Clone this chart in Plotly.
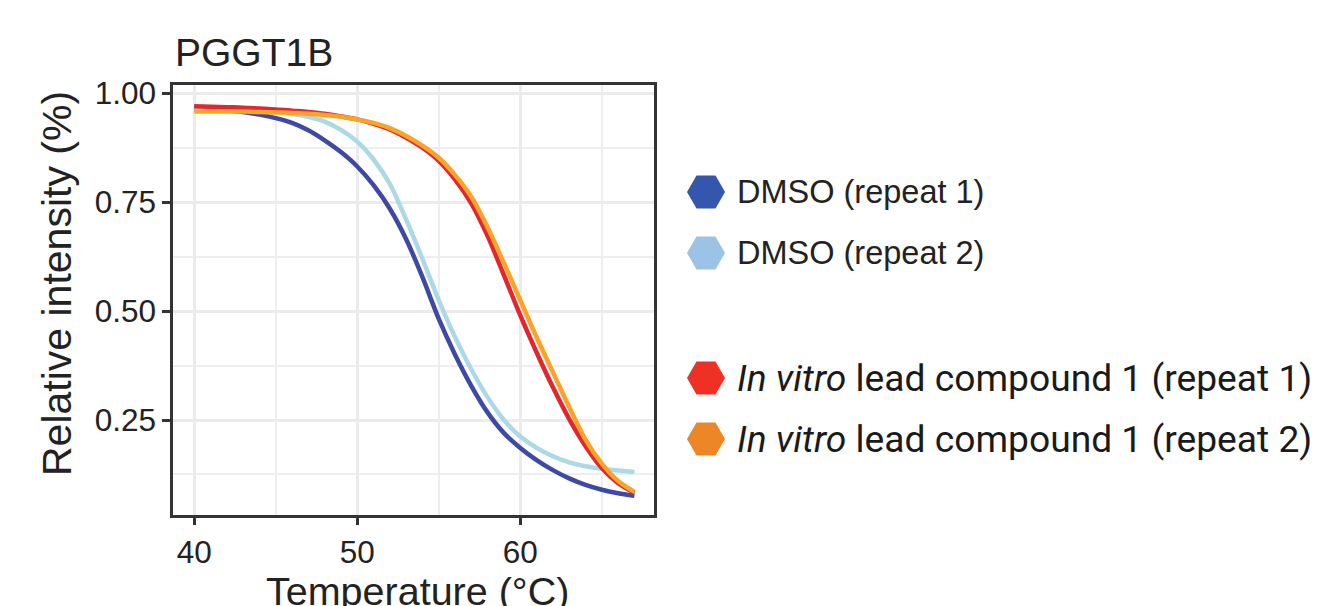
import plotly.graph_objects as go

# ---- data ----
temperature = [40, 41, 42, 43, 44, 45, 46, 47, 48, 49, 50, 51, 52, 53, 54, 55, 56, 57, 58, 59, 60,
               61, 62, 63, 64, 65, 66, 67]

dmso_r1 = [0.966, 0.964, 0.961, 0.957, 0.951, 0.943, 0.932, 0.915, 0.892, 0.865, 0.832, 0.789,
           0.735, 0.665, 0.578, 0.482, 0.400, 0.328, 0.267, 0.220, 0.186, 0.158, 0.135, 0.116,
           0.101, 0.090, 0.082, 0.076]
dmso_r2 = [0.962, 0.962, 0.962, 0.961, 0.960, 0.957, 0.953, 0.946, 0.935, 0.916, 0.889, 0.848,
           0.792, 0.710, 0.620, 0.525, 0.440, 0.366, 0.302, 0.250, 0.212, 0.186, 0.167, 0.153,
           0.144, 0.138, 0.134, 0.131]
cmpd_r1 = [0.970, 0.969, 0.968, 0.967, 0.965, 0.963, 0.960, 0.957, 0.953, 0.947, 0.940, 0.930,
           0.917, 0.898, 0.875, 0.845, 0.802, 0.747, 0.672, 0.582, 0.490, 0.405, 0.325, 0.252,
           0.190, 0.140, 0.105, 0.083]
cmpd_r2 = [0.958, 0.958, 0.958, 0.958, 0.957, 0.956, 0.955, 0.953, 0.950, 0.946, 0.940, 0.932,
           0.920, 0.902, 0.880, 0.852, 0.812, 0.762, 0.692, 0.610, 0.525, 0.440, 0.360, 0.280,
           0.205, 0.150, 0.110, 0.085]

series_names = ["DMSO (repeat 1)", "DMSO (repeat 2)",
                "<i>In vitro</i> lead compound 1 (repeat 1)",
                "<i>In vitro</i> lead compound 1 (repeat 2)"]
series_values = [dmso_r1, dmso_r2, cmpd_r1, cmpd_r2]
series_groups = [0, 0, 1, 1]
line_colors = ["#3D49A5", "#ADD8E6", "#E3262C", "#F6A52A"]
legend_colors = ["#3556AD", "#9CC3E6", "#EE3124", "#EC8626"]

x_ticks = [40, 50, 60]
y_ticks = [0.25, 0.50, 0.75, 1.00]
y_tick_labels = ["0.25", "0.50", "0.75", "1.00"]

W, H = 1325, 606
# plot box in pixels
L, R, T, B = 173, 654, 85, 515

fig = go.Figure()

for name, vals, col in zip(series_names, series_values, line_colors):
    fig.add_trace(go.Scatter(
        x=temperature, y=vals, mode="lines", name=name,
        line=dict(color=col, width=4.5, shape="spline", smoothing=0.8),
        showlegend=False, hoverinfo="x+y"))

# ---- manual legend on an overlay axis (pixel-like coordinates) ----
row_pos = [i + 1.05 * g for i, g in enumerate(series_groups)]
fig.add_trace(go.Scatter(
    x=[706] * len(row_pos), y=row_pos, mode="markers",
    marker=dict(symbol="hexagon2", size=38, color=legend_colors, line=dict(width=0)),
    xaxis="x2", yaxis="y2", showlegend=False, hoverinfo="skip"))

annotations = []
for i, (name, pos) in enumerate(zip(series_names, row_pos)):
    if series_groups[i] == 0:
        font = dict(family="Liberation Sans, Arial, sans-serif", size=32.5, color="#222222")
    else:
        font = dict(family="Roboto, sans-serif", size=37.2, color="#1a1a1a")
    annotations.append(dict(x=735, y=pos, xref="x2", yref="y2", text=name,
                            showarrow=False, xanchor="left", yanchor="middle", font=font))

axis_font = dict(family="Liberation Sans, Arial, sans-serif", color="#222222")
annotations.append(dict(x=173 / W, y=1 - 52 / H, xref="paper", yref="paper", text="PGGT1B",
                        showarrow=False, xanchor="left", yanchor="middle",
                        font=dict(size=39, **axis_font)))
annotations.append(dict(x=57 / W, y=1 - 284 / H, xref="paper", yref="paper",
                        text="Relative intensity (%)", textangle=-90,
                        showarrow=False, xanchor="center", yanchor="middle",
                        font=dict(size=41, **axis_font)))
annotations.append(dict(x=417 / W, y=1 - 591 / H, xref="paper", yref="paper",
                        text="Temperature (°C)",
                        showarrow=False, xanchor="center", yanchor="middle",
                        font=dict(size=39.5, **axis_font)))

# y pixel mapping for overlay: pos 0 -> 192 px, pos 1 -> 253 px
px_per = 61.0
y2_top = -192 / px_per
y2_bot = (H - 192) / px_per

fig.update_layout(
    width=W, height=H,
    margin=dict(l=0, r=0, t=0, b=0),
    paper_bgcolor="white", plot_bgcolor="rgba(0,0,0,0)",
    showlegend=False,
    annotations=annotations,
    xaxis=dict(
        domain=[L / W, R / W], range=[38.7, 68.2],
        tickmode="array", tickvals=x_ticks, ticktext=[str(v) for v in x_ticks],
        ticks="outside", ticklen=7, tickwidth=3, tickcolor="#333333",
        tickfont=dict(size=31.5, **axis_font),
        showgrid=True, gridcolor="#EBEBEB", gridwidth=2.5,
        minor=dict(tickvals=[45, 55, 65], showgrid=True, gridcolor="#EEEEEE", gridwidth=1.5, ticks=""),
        showline=True, mirror=True, linecolor="#333333", linewidth=2.5,
        zeroline=False, automargin=False, anchor="y", fixedrange=True),
    yaxis=dict(
        domain=[1 - B / H, 1 - T / H], range=[0.032, 1.019],
        tickmode="array", tickvals=y_ticks, ticktext=y_tick_labels,
        ticks="outside", ticklen=8, tickwidth=3, tickcolor="#333333",
        tickfont=dict(size=31.5, **axis_font),
        showgrid=True, gridcolor="#EBEBEB", gridwidth=2.5,
        minor=dict(tickvals=[0.125, 0.375, 0.625, 0.875], showgrid=True,
                   gridcolor="#EEEEEE", gridwidth=1.5, ticks=""),
        showline=True, mirror=True, linecolor="#333333", linewidth=2.5,
        zeroline=False, automargin=False, anchor="x", fixedrange=True),
    xaxis2=dict(domain=[0, 1], range=[0, W], visible=False, anchor="y2", fixedrange=True),
    yaxis2=dict(domain=[0, 1], range=[y2_bot, y2_top], visible=False, anchor="x2", fixedrange=True),
)

fig.write_html("out.html", config={"displayModeBar": False},
               post_script="document.body.style.margin='0';")
